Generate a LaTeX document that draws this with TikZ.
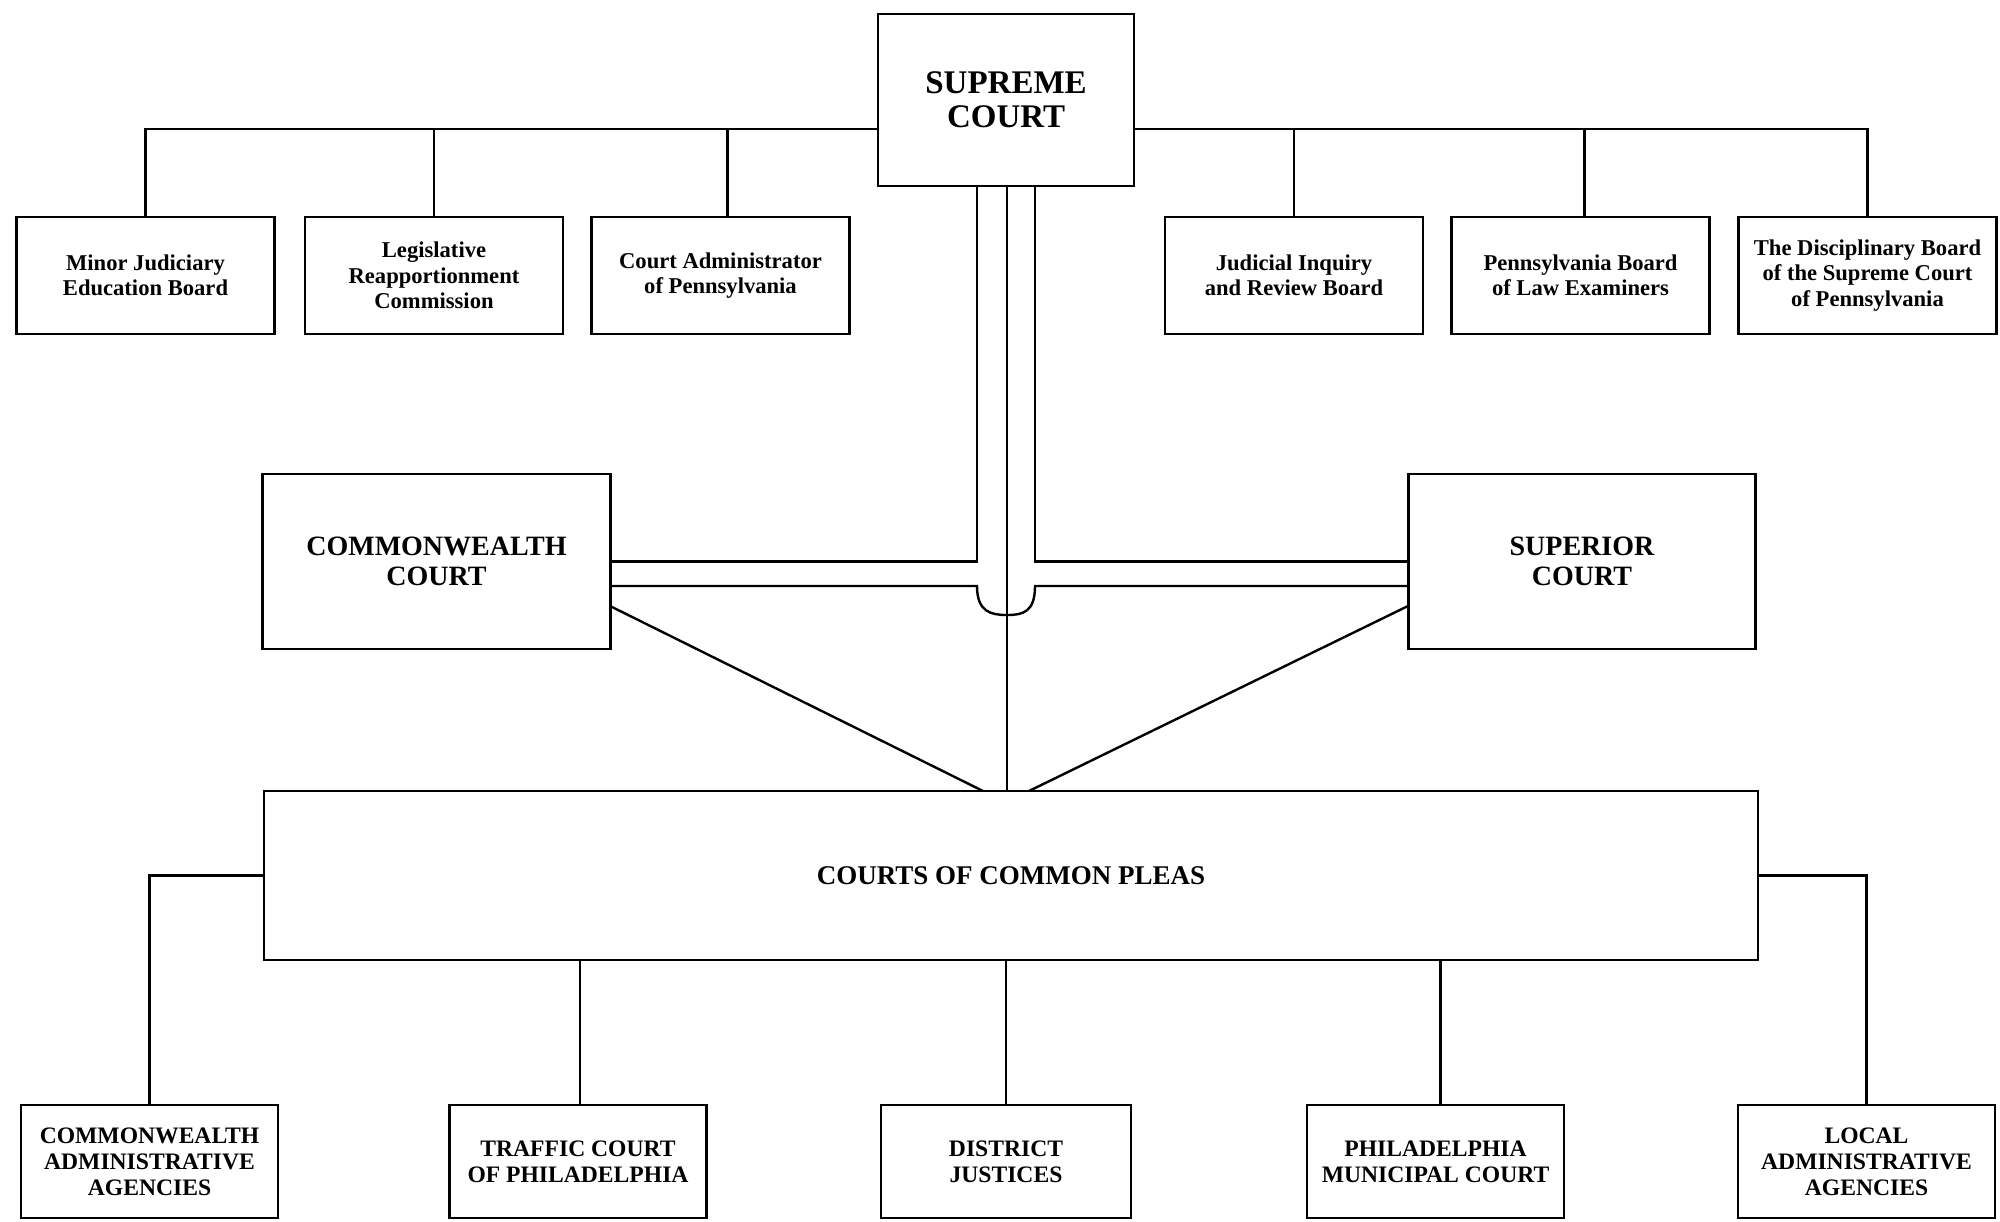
\documentclass[tikz,border=0pt]{standalone}
\usepackage{fontspec}
\setmainfont{Liberation Serif}
\begin{document}
\begin{tikzpicture}[x=0.5pt,y=-0.5pt,
  box/.style={draw, line width=1.3pt, align=center, inner sep=0pt, font=\bfseries},
  smallbox/.style={box, minimum width=129pt, minimum height=58.5pt, font=\bfseries\fontsize{11.3}{12.75}\selectfont},
  midbox/.style={box, minimum width=173.75pt, minimum height=87.5pt, font=\bfseries\fontsize{14}{15.3}\selectfont},
  lowbox/.style={box, minimum width=128.5pt, minimum height=56.5pt, font=\bfseries\fontsize{11.8}{13}\selectfont},
  conn/.style={line width=1.2pt}]
\useasboundingbox (0,0) rectangle (2000,1221);
% main courts
\node[box, minimum width=128pt, minimum height=86pt, font=\bfseries\fontsize{16.5}{17.2}\selectfont] (sup) at (1006,100) {SUPREME\\COURT};
\node[midbox] (cw) at (436.5,561.5) {COMMONWEALTH\\COURT};
\node[midbox] (su) at (1582,561.5) {SUPERIOR\\COURT};
\node[box, minimum width=747pt, minimum height=84.5pt, font=\bfseries\fontsize{13.5}{15}\selectfont] (ccp) at (1011,875.5) {COURTS OF COMMON PLEAS};
% top boxes
\node[smallbox] (t1) at (145.5,275.5) {Minor Judiciary\\Education Board};
\node[smallbox] (t2) at (434,275.5) {Legislative\\Reapportionment\\Commission};
\node[smallbox] (t3) at (720.5,275.5) {Court Administrator\\of Pennsylvania};
\node[smallbox] (t4) at (1294,275.5) {Judicial Inquiry\\and Review Board};
\node[smallbox] (t5) at (1580.5,275.5) {Pennsylvania Board\\of Law Examiners};
\node[smallbox] (t6) at (1867.5,275.5) {The Disciplinary Board\\of the Supreme Court\\of Pennsylvania};
% bottom boxes
\node[lowbox] (b1) at (149.5,1161.5) {COMMONWEALTH\\ADMINISTRATIVE\\AGENCIES};
\node[lowbox] (b2) at (578,1161.5) {TRAFFIC COURT\\OF PHILADELPHIA};
\node[lowbox, minimum width=125pt] (b3) at (1006,1161.5) {DISTRICT\\JUSTICES};
\node[lowbox] (b4) at (1435.5,1161.5) {PHILADELPHIA\\MUNICIPAL COURT};
\node[lowbox] (b5) at (1866.5,1161.5) {LOCAL\\ADMINISTRATIVE\\AGENCIES};
% coordinates
\coordinate (hl) at (878,129);
\coordinate (hr) at (1134,129);
\coordinate (pL) at (977,186);
\coordinate (pR) at (1035,186);
\coordinate (cwl) at (610,586);
\coordinate (sul) at (1408,586);
\coordinate (cwd) at (610,606);
\coordinate (sud) at (1408,606);
\coordinate (ccpl) at (983,791);
\coordinate (ccpr) at (1029,791);
% top connectors
\draw[conn] (hl) -| (t1.north);
\draw[conn] (t2.north) -- (t2.north |- hl);
\draw[conn] ([xshift=3.5pt]t3.north) -- ([xshift=3.5pt]t3.north |- hl);
\draw[conn] (hr) -| (t6.north);
\draw[conn] (t4.north) -- (t4.north |- hr);
\draw[conn] ([xshift=2pt]t5.north) -- ([xshift=2pt]t5.north |- hr);
% central pipe
\draw[conn] (pL) |- (cw.east);
\draw[conn] (pR) |- (su.west);
\draw[conn] (cwl) -- (977,586) .. controls (977,612) and (991,615) .. (1007,615) .. controls (1023,615) and (1035,612) .. (1035,586) -- (sul);
\draw[conn] (sup.south -| 1007,0) -- (ccp.north -| 1007,0);
\draw[conn] (cwd) -- (ccpl);
\draw[conn] (sud) -- (ccpr);
% bottom connectors
\draw[conn] (ccp.west) -| (b1.north);
\draw[conn] (ccp.east) -| (b5.north);
\draw[conn] ([xshift=1pt]b2.north) -- ([xshift=1pt]b2.north |- ccp.south);
\draw[conn] (b3.north) -- (b3.north |- ccp.south);
\draw[conn] ([xshift=2.5pt]b4.north) -- ([xshift=2.5pt]b4.north |- ccp.south);
\end{tikzpicture}
\end{document}
